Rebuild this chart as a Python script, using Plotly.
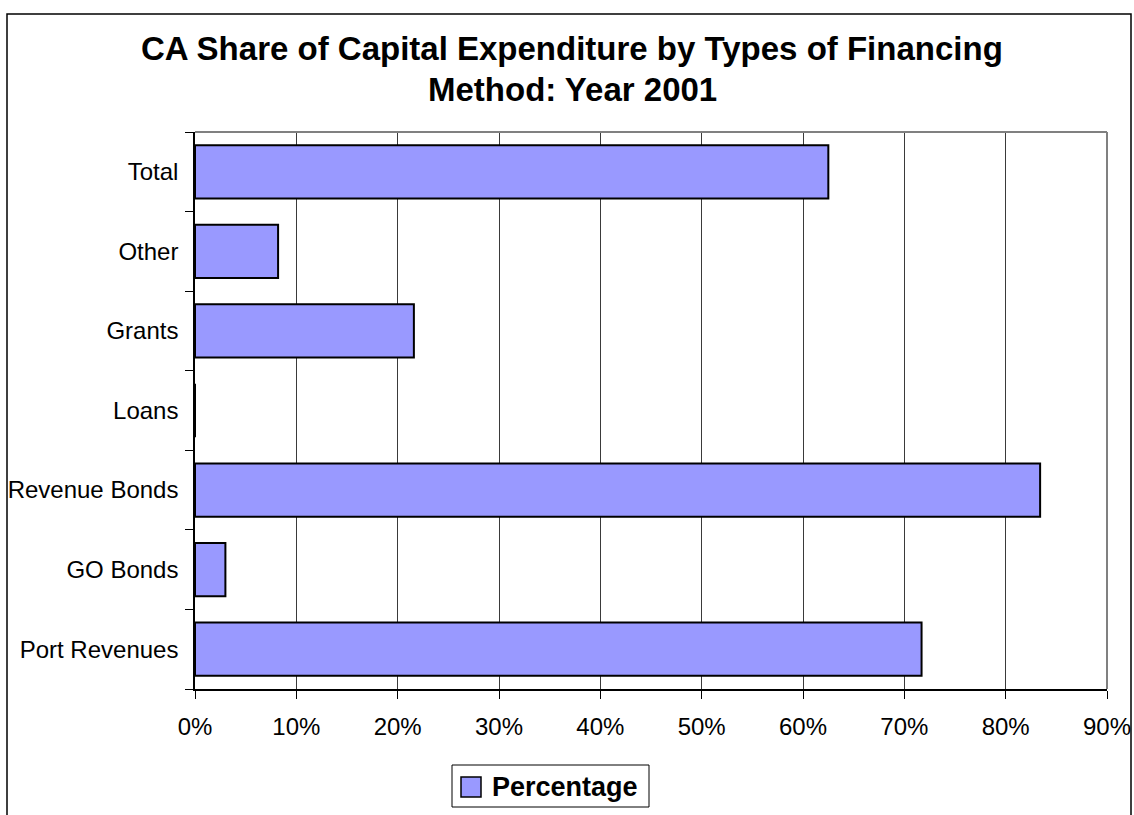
import plotly.graph_objects as go

# Financing methods, listed bottom-to-top as they appear on the axis
categories = ["Port Revenues", "GO Bonds", "Revenue Bonds", "Loans", "Grants", "Other", "Total"]
# Share of capital expenditure (fraction of total)
percentage = [0.717, 0.030, 0.834, 0.0, 0.216, 0.082, 0.625]
series_name = "Percentage"
x_ticks = [0.0, 0.1, 0.2, 0.3, 0.4, 0.5, 0.6, 0.7, 0.8, 0.9]
title_lines = ["CA Share of Capital Expenditure by Types of Financing", "Method: Year 2001"]

W, H = 1134, 815
L, R, T, B = 195, 1107, 132, 689  # plot area in pixels
FONT = "Arial, Liberation Sans, sans-serif"


def px(x):
    return (x - L) / (R - L)


def py(y):
    return (B - y) / (B - T)


fig = go.Figure()
fig.add_trace(go.Bar(
    y=categories,
    x=percentage,
    orientation="h",
    name=series_name,
    marker=dict(color="#9999FF", line=dict(color="#000000", width=2)),
    showlegend=False,
))

shapes = [
    # outer chart frame
    dict(type="rect", xref="paper", yref="paper",
         x0=px(7), x1=px(1131), y0=py(14), y1=py(830),
         line=dict(color="#000000", width=1.5), layer="below"),
    # top and right plot border
    dict(type="line", xref="paper", yref="paper", x0=0, x1=1, y0=1, y1=1,
         line=dict(color="#808080", width=2)),
    dict(type="line", xref="paper", yref="paper", x0=1, x1=1, y0=0, y1=1,
         line=dict(color="#808080", width=2)),
    # legend box and swatch
    dict(type="rect", xref="paper", yref="paper",
         x0=px(452), x1=px(649), y0=py(807), y1=py(765),
         line=dict(color="#000000", width=1), fillcolor="#FFFFFF"),
    dict(type="rect", xref="paper", yref="paper",
         x0=px(461), x1=px(481), y0=py(797), y1=py(777),
         line=dict(color="#000000", width=1.5), fillcolor="#9999FF"),
]

annotations = [
    dict(text="<b>" + title_lines[0] + "</b>",
         xref="paper", yref="paper", x=px(572), y=py(49),
         xanchor="center", yanchor="middle", showarrow=False,
         font=dict(family=FONT, size=33, color="#000000")),
    dict(text="<b>" + title_lines[1] + "</b>",
         xref="paper", yref="paper", x=px(572), y=py(89),
         xanchor="center", yanchor="middle", showarrow=False,
         font=dict(family=FONT, size=33, color="#000000")),
    dict(text="<b>" + series_name + "</b>",
         xref="paper", yref="paper", x=px(490), y=py(787),
         xanchor="left", yanchor="middle", showarrow=False,
         font=dict(family=FONT, size=27, color="#000000")),
]

fig.update_layout(
    width=W, height=H,
    margin=dict(l=L, r=W - R, t=T, b=H - B, pad=0, autoexpand=False),
    paper_bgcolor="#FFFFFF",
    plot_bgcolor="#FFFFFF",
    bargap=0.33,
    font=dict(family=FONT, size=24, color="#000000"),
    shapes=shapes,
    annotations=annotations,
    xaxis=dict(
        range=[0, 0.9],
        tickvals=x_ticks,
        tickformat=".0%",
        showgrid=True, gridcolor="#3a3a3a", gridwidth=1,
        zeroline=False,
        showline=True, linecolor="#000000", linewidth=1.5,
        ticks="outside", ticklen=8, tickcolor="#000000", tickwidth=1,
        tickfont=dict(size=24),
        ticklabelstandoff=7,
        automargin=False,
        fixedrange=True,
    ),
    yaxis=dict(
        type="category",
        categoryorder="array", categoryarray=categories,
        showgrid=False, zeroline=False,
        showline=True, linecolor="#000000", linewidth=1.5,
        ticks="outside", ticklen=8, tickcolor="#000000", tickwidth=1,
        tickson="boundaries",
        tickfont=dict(size=24),
        ticklabelstandoff=10,
        automargin=False,
        fixedrange=True,
    ),
)

fig.write_html("out.html", config={"displayModeBar": False})
